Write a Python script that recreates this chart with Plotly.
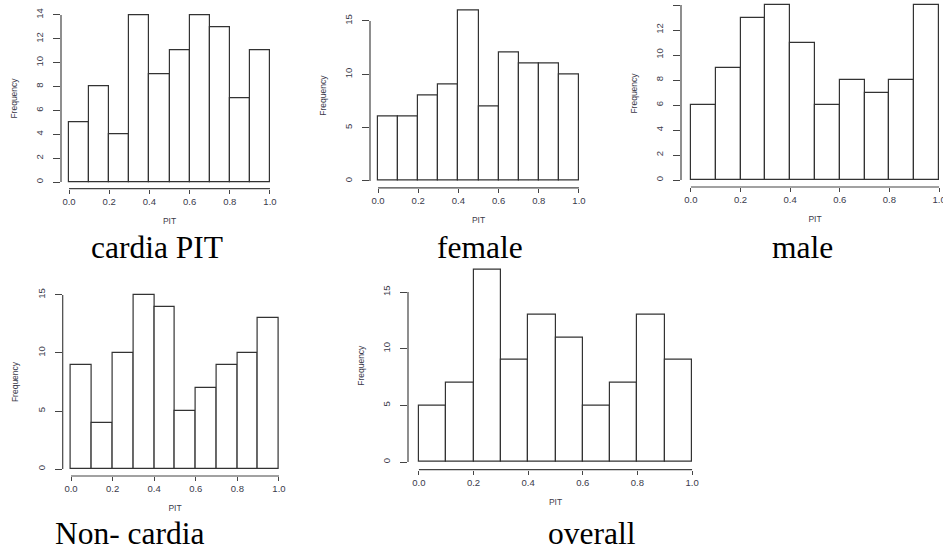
import plotly.graph_objects as go

W, H = 943, 550      # browser window the reference was cut to
FIG_W = 953          # figure runs a little past the window on the right, like the cropped reference

# PIT histogram counts, bins 0.0-0.1, ..., 0.9-1.0
bin_mids = [0.05, 0.15, 0.25, 0.35, 0.45, 0.55, 0.65, 0.75, 0.85, 0.95]
cardia_pit = [5, 8, 4, 14, 9, 11, 14, 13, 7, 11]
female = [6, 6, 8, 9, 16, 7, 12, 11, 11, 10]
male = [6, 9, 13, 14, 11, 6, 8, 7, 8, 14]
non_cardia = [9, 4, 10, 15, 14, 5, 7, 9, 10, 13]
overall = [5, 7, 17, 9, 13, 11, 5, 7, 13, 9]

captions = ["cardia PIT", "female", "male", "Non- cardia", "overall"]
y_ticks = [
    [0, 2, 4, 6, 8, 10, 12, 14],
    [0, 5, 10, 15],
    [0, 2, 4, 6, 8, 10, 12, 14],
    [0, 5, 10, 15],
    [0, 5, 10, 15],
]
x_ticks = [0, 0.2, 0.4, 0.6, 0.8, 1.0]
x_labels = ["0.0", "0.2", "0.4", "0.6", "0.8", "1.0"]

series = [cardia_pit, female, male, non_cardia, overall]

# panel boxes in pixels: (left, right, top, bottom), plus axis ranges
panels = [
    dict(box=(61, 278, 8.3, 188.7), xr=[-0.04, 1.04], yr=[-0.56, 14.56], cap=(157, 247)),
    dict(box=(370, 587, 3.5, 187.8), xr=[-0.04, 1.04], yr=[-0.64, 16.64], cap=(480, 247)),
    dict(box=(681, 949, 0, 187), xr=[-0.04, 1.04], yr=[-0.56, 14.4], cap=(802, 247)),
    dict(box=(62.7, 287.3, 288, 476), xr=[-0.04, 1.04], yr=[-0.6, 15.6], cap=(130, 533)),
    dict(box=(408, 703, 261.7, 469.7), xr=[-0.04, 1.04], yr=[-0.68, 17.68], cap=(592, 533)),
]

axis_col = "#444444"
lab_col = "#3a3a4a"
tick_font = dict(family="Liberation Sans, Arial", size=9.5, color=lab_col)
title_font = dict(family="Liberation Sans, Arial", size=8.5, color=lab_col)

fig = go.Figure()
shapes = []
annotations = []
layout_axes = {}

for i, (counts, p) in enumerate(zip(series, panels)):
    n = "" if i == 0 else str(i + 1)
    xa, ya = "x" + n, "y" + n
    fig.add_trace(go.Bar(
        x=bin_mids, y=counts, width=0.1,
        marker=dict(color="white", line=dict(color="#333333", width=1.2)),
        xaxis=xa, yaxis=ya, showlegend=False, hoverinfo="x+y",
    ))
    l, r, t, b = p["box"]
    layout_axes["xaxis" + n] = dict(
        domain=[l / FIG_W, r / FIG_W], range=p["xr"], anchor=ya, automargin=False,
        showgrid=False, zeroline=False, showline=False,
        ticks="outside", ticklen=4, tickcolor=axis_col,
        tickvals=x_ticks, ticktext=x_labels, tickfont=tick_font,
        title=dict(text="PIT", font=title_font, standoff=11),
    )
    layout_axes["yaxis" + n] = dict(
        domain=[1 - b / H, 1 - t / H], range=p["yr"], anchor=xa, automargin=False,
        showgrid=False, zeroline=False, showline=False,
        ticks="outside", ticklen=7, tickcolor=axis_col, ticklabelstandoff=6,
        tickvals=y_ticks[i], tickangle=-90, tickfont=tick_font,
        title=dict(text="Frequency", font=title_font, standoff=15),
    )
    # R-style detached axis lines spanning only the tick range
    shapes.append(dict(type="line", xref=xa, yref=ya + " domain",
                       x0=0, x1=1, y0=0, y1=0, line=dict(color=axis_col, width=1.2)))
    shapes.append(dict(type="line", xref=xa + " domain", yref=ya,
                       x0=0, x1=0, y0=0, y1=y_ticks[i][-1], line=dict(color=axis_col, width=1.2)))
    cx, cy = p["cap"]
    annotations.append(dict(
        text=captions[i], x=cx / FIG_W, y=1 - cy / H, xref="paper", yref="paper",
        xanchor="center", yanchor="middle", showarrow=False, borderpad=0,
        font=dict(family="Liberation Serif, Times New Roman", size=31.5, color="black"),
    ))

fig.update_layout(
    width=FIG_W, height=H,
    margin=dict(l=0, r=0, t=0, b=0, autoexpand=False),
    paper_bgcolor="white", plot_bgcolor="white",
    bargap=0, shapes=shapes, annotations=annotations,
    **layout_axes,
)

# drop the default page margin and scrollbars so the figure sits at the window's corner
fig.write_html(
    "out.html",
    config={"displayModeBar": False},
    post_script="document.body.style.margin='0';document.body.style.overflow='hidden';",
)
